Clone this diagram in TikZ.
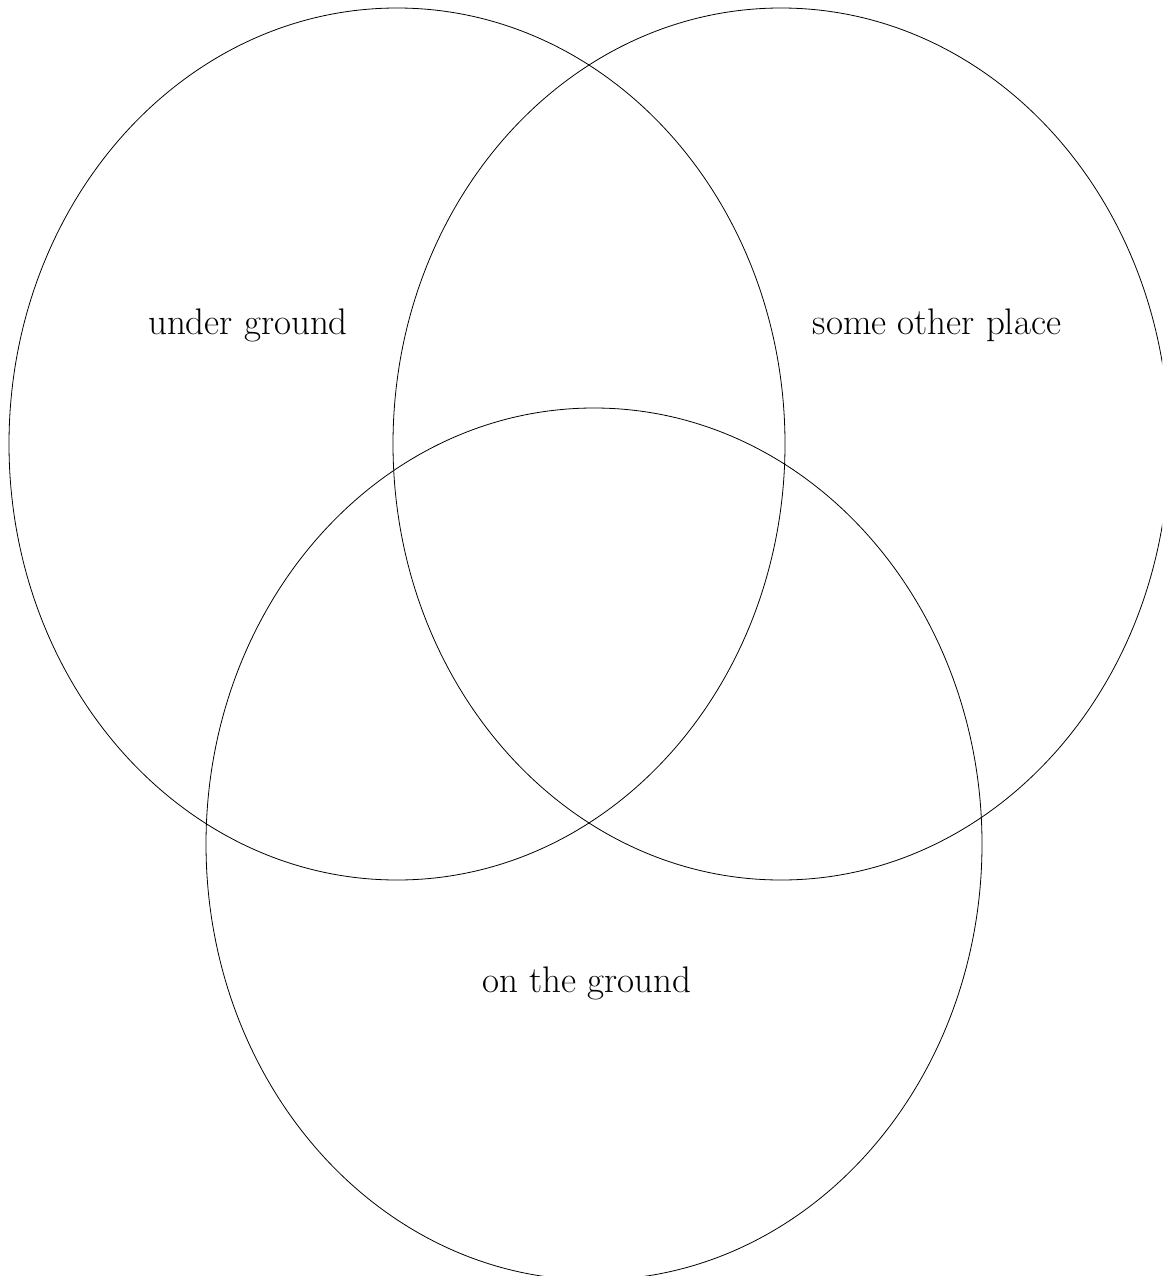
\documentclass[tikz,border=0pt]{standalone}
\begin{document}
\begin{tikzpicture}[x=1pt,y=-1pt,
  setring/.style={draw=black,line width=0.8pt},
  lbl/.style={font=\fontsize{37}{44}\selectfont,inner sep=0pt}]
\useasboundingbox (0,0) rectangle (1162,1276);
\clip (0,0) rectangle (1162,1276);
\draw[setring] (397,444) ellipse [x radius=388,y radius=436];
\draw[setring] (781,444) ellipse [x radius=388,y radius=436];
\draw[setring] (594,844) ellipse [x radius=388,y radius=436];
\node[lbl] (ug) at (248,325) {under ground};
\node[lbl] (sop) at (937,325) {some other place};
\node[lbl] (otg) at (587,983) {on the ground};
\end{tikzpicture}
\end{document}
